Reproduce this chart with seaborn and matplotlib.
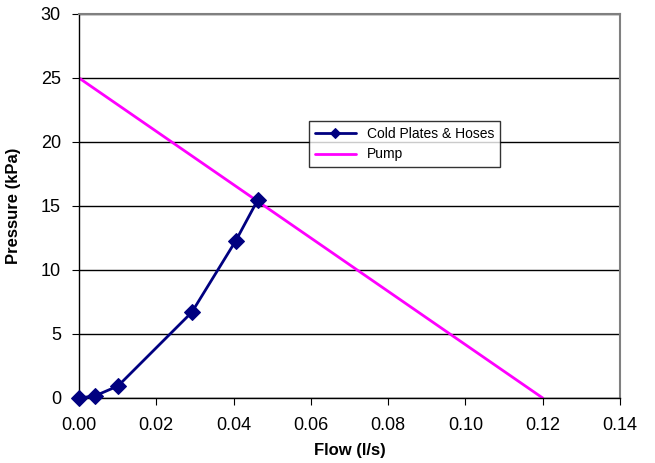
import matplotlib
matplotlib.use("Agg")
import matplotlib.pyplot as plt
import seaborn as sns
import pandas as pd

# Cold plates & hoses system curve
cp_flow = [0.0, 0.0041, 0.0101, 0.0292, 0.0406, 0.0463]
cp_pressure = [0.0, 0.16, 0.94, 6.7, 12.3, 15.5]

# Pump curve
pump_flow = [0.0, 0.12]
pump_pressure = [25.0, 0.0]

sns.set_style("white")
plt.rcParams['font.family'] = ['Liberation Sans', 'DejaVu Sans']
plt.rcParams['text.color'] = 'black'
plt.rcParams['axes.labelcolor'] = 'black'
plt.rcParams['xtick.color'] = 'black'
plt.rcParams['ytick.color'] = 'black'

fig = plt.figure(figsize=(6.55, 4.63), dpi=100)
ax = fig.add_axes([79 / 655, 1 - 398 / 463, 541 / 655, 384 / 463])

cp = pd.DataFrame({"flow": cp_flow, "pressure": cp_pressure})
pump = pd.DataFrame({"flow": pump_flow, "pressure": pump_pressure})

sns.lineplot(data=cp, x="flow", y="pressure", ax=ax, color="#000080", lw=2,
             marker="D", markersize=8, markeredgecolor="#000080",
             label="Cold Plates & Hoses", zorder=3, clip_on=False)
sns.lineplot(data=pump, x="flow", y="pressure", ax=ax, color="#ff00ff", lw=2,
             label="Pump", zorder=2)

ax.set_xlim(0, 0.14)
ax.set_ylim(0, 30)
ax.set_xticks([0, 0.02, 0.04, 0.06, 0.08, 0.10, 0.12, 0.14])
ax.set_xticklabels([f"{v:.2f}" for v in ax.get_xticks()])
ax.set_yticks(range(0, 31, 5))
ax.yaxis.grid(True, color="black", lw=1)
ax.xaxis.grid(False)
ax.set_axisbelow(True)
for s in ["top", "right"]:
    ax.spines[s].set_color("#808080")
    ax.spines[s].set_linewidth(1.5)
for s in ["left", "bottom"]:
    ax.spines[s].set_color("black")
    ax.spines[s].set_linewidth(1)
    ax.spines[s].set_zorder(2.5)
ax.tick_params(axis="both", which="both", direction="out", length=5, color="black",
               labelsize=13, bottom=True, left=True)
ax.tick_params(axis="x", pad=9)
ax.tick_params(axis="y", pad=8)
ax.set_xlabel("Flow (l/s)", fontsize=12, fontweight="bold", labelpad=6)
ax.set_ylabel("Pressure (kPa)", fontsize=12, fontweight="bold", labelpad=14)

leg = ax.legend(loc="upper left", bbox_to_anchor=(223 / 541, (398 - 114) / 384),
                frameon=True, fancybox=False, edgecolor="black", fontsize=10,
                handlelength=3, markerscale=0.6, borderpad=0.4)
leg.get_frame().set_linewidth(1)

fig.savefig("out.png", dpi=100)
